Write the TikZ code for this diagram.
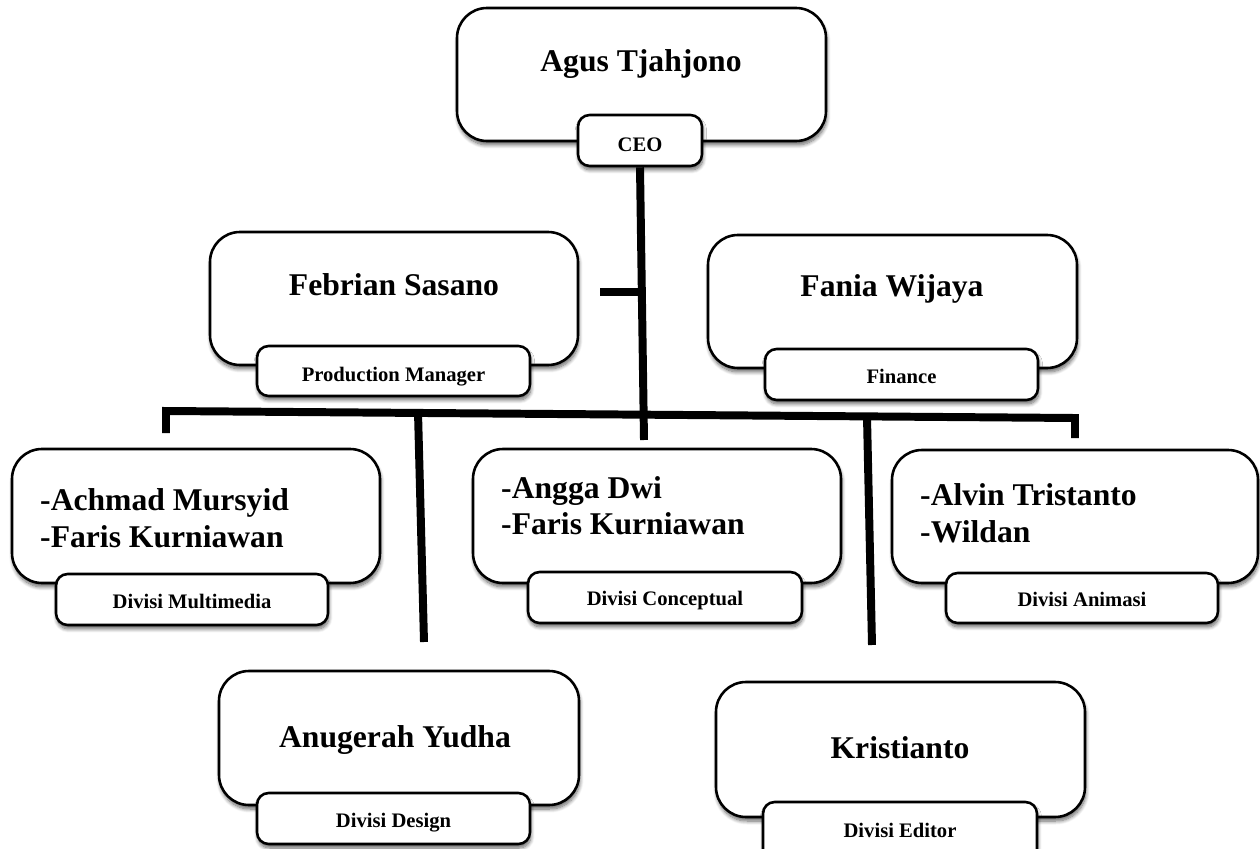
\documentclass[tikz,border=0pt]{standalone}
\usepackage{fontspec}
\setmainfont{Liberation Serif}
\usetikzlibrary{fit,shadows.blur}
\tikzset{
  mainbox/.style={draw=black, line width=2.2pt, rounded corners=0.9cm, fill=white, inner sep=0pt,
    blur shadow={shadow blur steps=8, shadow xshift=0.8pt, shadow yshift=-3.4pt, shadow opacity=60, shadow blur radius=3.2pt}},
  lblbox/.style={draw=black, line width=2.2pt, rounded corners=0.35cm, fill=white, inner sep=0pt,
    blur shadow={shadow blur steps=8, shadow xshift=0.8pt, shadow yshift=-3.4pt, shadow opacity=60, shadow blur radius=3.2pt}},
  lbltext/.style={font=\bfseries\fontsize{17.6}{20}\selectfont, inner sep=0pt, anchor=base},
  nametext/.style={font=\bfseries\fontsize{27}{31.5}\selectfont, inner sep=0pt, anchor=base},
  linetext/.style={font=\bfseries\fontsize{27}{31.5}\selectfont, inner sep=0pt, anchor=base west},
  conn/.style={line width=6.8pt, black, line cap=butt, line join=miter}
}
\begin{document}
\begin{tikzpicture}[x=0.03cm,y=-0.03cm]
\useasboundingbox (0,0) rectangle (1260,849);

% CEO
\node[mainbox, fit={(457,8)(826,141)}] (ceo) {};
\node[nametext] (ceot) at (641,72) {Agus Tjahjono};
\node[lblbox, fit={(578,115)(702,166)}] (ceol) {};
\node[lbltext] (ceolt) at (640,152) {CEO};

% Production Manager
\node[mainbox, fit={(210,232)(578,365)}] (pm) {};
\node[nametext] (pmt) at (394,295) {Febrian Sasano};
\node[lblbox, fit={(257,346)(530,396)}] (pml) {};
\node[lbltext] (pmlt) at (393.5,381) {Production Manager};

% Finance
\node[mainbox, fit={(708,235)(1077,368)}] (fin) {};
\node[nametext] (fint) at (892,297) {Fania Wijaya};
\node[lblbox, fit={(765,349)(1038,400)}] (finl) {};
\node[lbltext] (finlt) at (901.5,383) {Finance};

% Multimedia
\node[mainbox, fit={(12,449)(380,583)}] (mm) {};
\node[linetext] (mmt1) at (40,510) {-Achmad Mursyid};
\node[linetext] (mmt2) at (40,547) {-Faris Kurniawan};
\node[lblbox, fit={(56,574)(328,625)}] (mml) {};
\node[lbltext] (mmlt) at (192,608) {Divisi Multimedia};

% Conceptual
\node[mainbox, fit={(473,449)(841,583)}] (cc) {};
\node[linetext] (cct1) at (501,498) {-Angga Dwi};
\node[linetext] (cct2) at (501,534) {-Faris Kurniawan};
\node[lblbox, fit={(528,572)(802,623)}] (ccl) {};
\node[lbltext] (cclt) at (665,605.5) {Divisi Conceptual};

% Animasi
\node[mainbox, fit={(892,450)(1258,583)}] (an) {};
\node[linetext] (ant1) at (920,505) {-Alvin Tristanto};
\node[linetext] (ant2) at (920,542) {-Wildan};
\node[lblbox, fit={(946,573)(1218,623)}] (anl) {};
\node[lbltext] (anlt) at (1082,606.5) {Divisi Animasi};

% Design
\node[mainbox, fit={(219,671)(579,805)}] (ds) {};
\node[nametext] (dst) at (395,747) {Anugerah Yudha};
\node[lblbox, fit={(257,793)(530,844)}] (dsl) {};
\node[lbltext] (dslt) at (393.5,827) {Divisi Design};

% Editor
\node[mainbox, fit={(716,682)(1085,817)}] (ed) {};
\node[nametext] (edt) at (900,758) {Kristianto};
\node[lblbox, fit={(763,802)(1037,862)}] (edl) {};
\node[lbltext] (edlt) at (900,837) {Divisi Editor};

% connectors
\coordinate (trunkEnd) at (644,440);
\coordinate (pmStub) at (600,292);
\coordinate (pmJoin) at (641.6,292);
\coordinate (hL) at (166,411);
\coordinate (hR) at (1075,418);
\coordinate (hLend) at (166,433);
\coordinate (hRend) at (1075,438);
\coordinate (vLtop) at (418,412);
\coordinate (vLbot) at (424,642);
\coordinate (vRtop) at (867,417);
\coordinate (vRbot) at (872,645);

\draw[conn] (ceol.south) -- (trunkEnd);
\draw[conn] (pmStub) -- (pmJoin);
\draw[conn] (hLend) -- (hL) -- (hR) -- (hRend);
\draw[conn] (vLtop) -- (vLbot);
\draw[conn] (vRtop) -- (vRbot);
\end{tikzpicture}
\end{document}
